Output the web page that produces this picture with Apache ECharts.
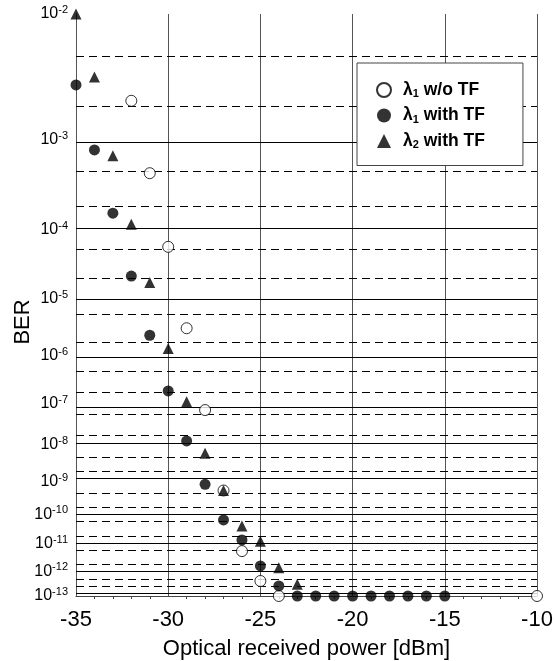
<!DOCTYPE html>
<html>
<head>
<meta charset="utf-8">
<script src="https://cdn.jsdelivr.net/npm/echarts@6/dist/echarts.min.js"></script>
<style>
  html, body { margin: 0; padding: 0; background: #fff; }
  #chart { width: 555px; height: 661px; }
</style>
</head>
<body>
<div id="chart"></div>
<script>
// power (dBm) and BER per series
var xWoTF = [-32, -31, -30, -29, -28, -27, -26, -25, -24, -10];
var berWoTF = [2.27e-3, 4.6e-4, 5.9e-5, 3.2e-6, 7.1e-8, 5.5e-10, 5.6e-12, 4.1e-13, 1e-13, 1e-13];

var xL1TF = [-35, -34, -33, -32, -31, -30, -29, -28, -27, -26, -25, -24, -23, -22, -21, -20, -19, -18, -17, -16, -15];
var berL1TF = [3.07e-3, 8.0e-4, 1.6e-4, 2.26e-5, 2.4e-6, 1.9e-7, 1.27e-8, 8.4e-10, 6.6e-11, 1.4e-11, 1.58e-12, 2.6e-13,
  1e-13, 1e-13, 1e-13, 1e-13, 1e-13, 1e-13, 1e-13, 1e-13, 1e-13];

var xL2TF = [-35, -34, -33, -32, -31, -30, -29, -28, -27, -26, -25, -24, -23];
var berL2TF = [1e-2, 3.56e-3, 7.0e-4, 1.17e-4, 1.8e-5, 1.36e-6, 1.1e-7, 6.1e-9, 5.5e-10, 4.2e-11, 1.26e-11, 1.35e-12, 3.0e-13];

var decades = [2, 3, 4, 5, 6, 7, 8, 9, 10, 11, 12, 13]; // BER = 10^-n
var minorMant = [5, 2]; // dashed lines inside each decade

var legendNames = ['λ1 w/o TF', 'λ1 with TF', 'λ2 with TF'];
var legendRich = {
  'λ1 w/o TF': 'λ{sub|1} w/o TF',
  'λ1 with TF': 'λ{sub|1} with TF',
  'λ2 with TF': 'λ{sub|2} with TF'
};

// y scale: log10(-log10(BER))
function tr(ber) {
  return Math.log10(-Math.log10(ber));
}
function pairs(xs, bs) {
  return xs.map(function (x, i) { return [x, tr(bs[i])]; });
}

var decadeVals = decades.map(function (n) { return tr(Math.pow(10, -n)); });

var gridLines = [];
decades.forEach(function (n, i) {
  gridLines.push({ yAxis: decadeVals[i], lineStyle: { type: 'solid', color: '#000', width: 1 } });
  if (n < 13) {
    minorMant.forEach(function (m) {
      gridLines.push({ yAxis: tr(m * Math.pow(10, -(n + 1))), lineStyle: { type: [8, 5], color: '#000', width: 1 } });
    });
  }
});

var chart = echarts.init(document.getElementById('chart'));

var option = {
  backgroundColor: '#fff',
  animation: false,
  textStyle: { fontFamily: 'Liberation Sans', color: '#000' },
  grid: { left: 76, right: 18, top: 14, bottom: 65, containLabel: false, outerBoundsMode: 'none' },
  legend: {
    data: legendNames,
    orient: 'vertical',
    left: 357,
    top: 63,
    backgroundColor: '#fff',
    borderColor: '#444',
    borderWidth: 1,
    borderRadius: 0,
    padding: [18, 38, 15, 19],
    itemGap: 7,
    itemWidth: 14,
    itemHeight: 14,
    formatter: function (name) { return legendRich[name]; },
    textStyle: {
      fontFamily: 'Liberation Sans',
      fontSize: 17.5,
      fontWeight: 'bold',
      color: '#000',
      padding: [0, 0, 0, 7],
      rich: {
        sub: { fontSize: 11, fontWeight: 'bold', verticalAlign: 'bottom', padding: [8, 0, 0, 0] }
      }
    }
  },
  xAxis: {
    type: 'value',
    min: -35,
    max: -10,
    interval: 5,
    name: 'Optical received power [dBm]',
    nameLocation: 'middle',
    nameGap: 42,
    nameTextStyle: { fontSize: 22, color: '#000' },
    axisLine: { lineStyle: { color: '#444' } },
    axisTick: { show: false },
    minorTick: { show: true, splitNumber: 5, length: 3, lineStyle: { color: '#444' } },
    axisLabel: { fontSize: 22, color: '#000', margin: 13 },
    splitLine: { show: true, lineStyle: { color: '#555', width: 1 } }
  },
  yAxis: {
    type: 'value',
    inverse: true,
    min: tr(1e-2),
    max: tr(1e-13),
    name: 'BER',
    nameLocation: 'middle',
    nameGap: 42,
    nameMoveOverlap: false,
    nameTextStyle: { fontSize: 22, color: '#000', padding: [0, 34, 0, 0] },
    axisLine: { show: true, lineStyle: { color: '#555' } },
    axisTick: { show: false },
    splitLine: { show: false },
    axisLabel: {
      customValues: decadeVals,
      margin: 8,
      color: '#000',
      fontSize: 16,
      formatter: function (v) {
        var n = Math.round(Math.pow(10, v));
        return '10{sup|-' + n + '}';
      },
      rich: {
        sup: { fontSize: 11, verticalAlign: 'top', padding: [0, 0, 8, 0] }
      }
    }
  },
  series: [
    {
      name: 'λ1 w/o TF',
      type: 'scatter',
      symbol: 'circle',
      symbolSize: 11,
      itemStyle: { color: '#fff', borderColor: '#000', borderWidth: 1 },
      data: pairs(xWoTF, berWoTF),
      z: 3,
      markLine: {
        silent: true,
        symbol: 'none',
        label: { show: false },
        data: gridLines,
        z: 1
      }
    },
    {
      name: 'λ1 with TF',
      type: 'scatter',
      symbol: 'circle',
      symbolSize: 11,
      itemStyle: { color: '#000' },
      data: pairs(xL1TF, berL1TF),
      z: 4
    },
    {
      name: 'λ2 with TF',
      type: 'scatter',
      symbol: 'triangle',
      symbolSize: 11,
      itemStyle: { color: '#000' },
      data: pairs(xL2TF, berL2TF),
      z: 5
    }
  ]
};

chart.setOption(option);
</script>
</body>
</html>
